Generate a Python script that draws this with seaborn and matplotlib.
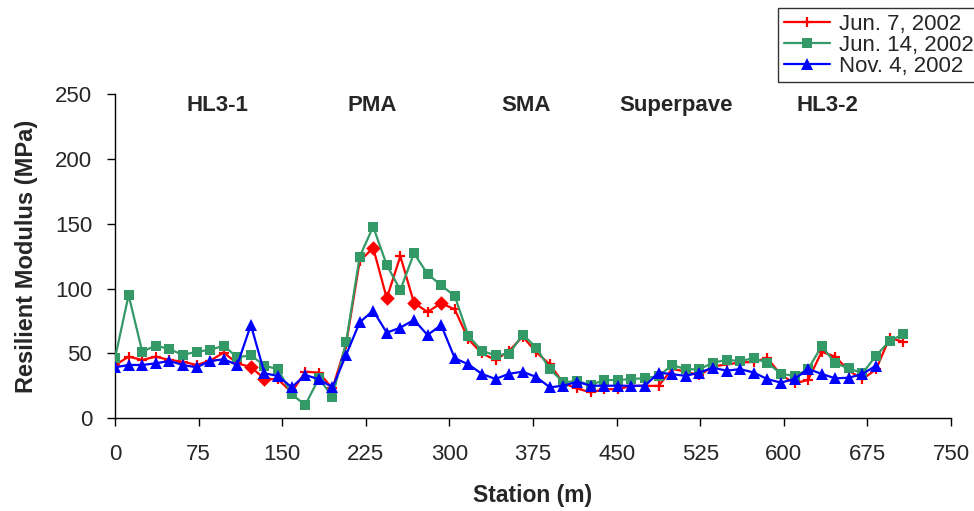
import matplotlib
matplotlib.use("Agg")
import matplotlib.pyplot as plt
import seaborn as sns
import pandas as pd

# ---------------- data ----------------
stations = [0.0, 12.2, 24.4, 36.6, 48.8, 61.0, 73.2, 85.3, 97.5, 109.7,
            121.9, 134.1, 146.3, 158.5, 170.7, 182.9, 195.1, 207.3, 219.5, 231.6,
            243.8, 256.0, 268.2, 280.4, 292.6, 304.8, 317.0, 329.2, 341.4, 353.6,
            365.8, 377.9, 390.1, 402.3, 414.5, 426.7, 438.9, 451.1, 463.3, 475.5,
            487.7, 499.9, 512.1, 524.3, 536.4, 548.6, 560.8, 573.0, 585.2, 597.4,
            609.6, 621.8, 634.0, 646.2, 658.4, 670.6, 682.8, 694.9, 707.1]

jun7 = [41, 47.5, 45, 47.5, 45, 43.6, 41.1, 44.4, 50.6, 42.4,
        39.5, 30.5, 30, 20, 35.9, 35.2, 23, 57, 121, 131.5,
        92.5, 125, 89, 82, 88.7, 84, 61, 50, 45, 52,
        63, 51, 41.5, 27, 23, 20, 22.4, 22.4, 25, 25,
        25, 38, 36, 33, 40, 41.5, 43, 43.5, 46.5, 33.5,
        27, 29.5, 51.3, 47.5, 36.7, 30.1, 37.8, 62, 59]

jun14 = [46.3, 95, 51.4, 56, 53.4, 48.8, 51.4, 52.7, 56, 47,
         48.6, 40.6, 37.8, 18.5, 10.3, 30.8, 16.7, 58.5, 124.6, 147.7,
         118.2, 98.9, 127.2, 111.3, 102.5, 94.3, 63.5, 52, 48.5, 49.8,
         64.6, 54.5, 37.9, 27.8, 28.8, 25.7, 29.5, 29.5, 30.3, 30.9,
         32.6, 41.1, 37.8, 37.8, 42.9, 45, 44.2, 46.3, 42.9, 34.4,
         32.6, 37.8, 55.7, 42.4, 38.5, 34.7, 48.3, 59.6, 64.8]

nov4 = [39.3, 41.1, 41.1, 42.4, 44.2, 41.1, 39.3, 44.2, 45.5, 41.1,
        72, 34.7, 32.6, 23.9, 33.4, 30.1, 23.9, 48.8, 74, 83,
        66, 69.9, 75.8, 64.2, 71.9, 46.3, 41.6, 34.2, 30.3, 34.4,
        35.9, 31.8, 23.9, 25.1, 28.2, 25.1, 25.1, 25.1, 25.1, 25.1,
        35.2, 34, 32.7, 35.3, 39, 36.7, 37.9, 35.3, 30.2, 27.5,
        30.3, 38, 34.2, 30.8, 31.3, 34.2, 40.6]

jun7_diamond_idx = [10, 11, 19, 20, 22, 24]

series_labels = ["Jun. 7, 2002", "Jun. 14, 2002", "Nov. 4, 2002"]

section_names = ["HL3-1", "PMA", "SMA", "Superpave", "HL3-2"]
section_x = [91.5, 230.6, 368.7, 503.2, 638.7]
section_y = 241.5

x_ticks = [0, 75, 150, 225, 300, 375, 450, 525, 600, 675, 750]
y_ticks = [0, 50, 100, 150, 200, 250]

# ---------------- style ----------------
sns.set_style("white")
plt.rcParams["font.family"] = ["Liberation Sans", "DejaVu Sans"]

RED = "#FF0000"
GREEN = "#339966"
BLUE = "#0000FF"

fig = plt.figure(figsize=(9.74, 5.11), dpi=100)
ax = fig.add_axes([115 / 974, 1 - 418.3 / 511, (951 - 115) / 974, (418.3 - 94) / 511])

df_r = pd.DataFrame({"Station": stations, "MR": jun7})
df_g = pd.DataFrame({"Station": stations, "MR": jun14})
df_b = pd.DataFrame({"Station": stations[:len(nov4)], "MR": nov4})
df_d = df_r.iloc[jun7_diamond_idx]

sns.lineplot(data=df_r, x="Station", y="MR", ax=ax, color=RED, lw=1.6,
             marker="+", markersize=7, markeredgewidth=1.6,
             markeredgecolor=RED, markerfacecolor=RED, estimator=None,
             label=series_labels[0], zorder=2)
sns.scatterplot(data=df_d, x="Station", y="MR", ax=ax, color=RED, marker="D",
                s=55, edgecolor=RED, linewidth=0, zorder=2.5, legend=False)
sns.lineplot(data=df_g, x="Station", y="MR", ax=ax, color=GREEN, lw=1.6,
             marker="s", markersize=7, markeredgewidth=0,
             markeredgecolor=GREEN, markerfacecolor=GREEN, estimator=None,
             label=series_labels[1], zorder=3)
sns.lineplot(data=df_b, x="Station", y="MR", ax=ax, color=BLUE, lw=1.6,
             marker="^", markersize=8.5, markeredgewidth=0,
             markeredgecolor=BLUE, markerfacecolor=BLUE, estimator=None,
             label=series_labels[2], zorder=4)

ax.set_xlim(0, 750)
ax.set_ylim(0, 250)
ax.set_xticks(x_ticks)
ax.set_yticks(y_ticks)
ax.tick_params(axis="both", direction="out", length=5.5, width=1, color="black",
               labelsize=16, bottom=True, left=True)
ax.tick_params(axis="x", pad=13)
ax.tick_params(axis="y", pad=11)

for s in ["top", "right"]:
    ax.spines[s].set_visible(False)
for s in ["left", "bottom"]:
    ax.spines[s].set_color("black")
    ax.spines[s].set_linewidth(1)

ax.set_xlabel("Station (m)", fontsize=16.5, fontweight="bold", labelpad=14)
ax.set_ylabel("Resilient Modulus (MPa)", fontsize=17, fontweight="bold", labelpad=12)

for name, xs in zip(section_names, section_x):
    ax.text(xs, section_y, name, ha="center", va="center", fontsize=16,
            fontweight="bold")

handles, labels = ax.get_legend_handles_labels()
ax.get_legend().remove()
leg = fig.legend(handles, labels, loc="upper left",
                 bbox_to_anchor=(778 / 974, 1 - 8 / 511),
                 fontsize=16, frameon=True, fancybox=False, shadow=False,
                 edgecolor="black", handlelength=2.1, handletextpad=0.4,
                 labelspacing=0.0, borderpad=0.25, borderaxespad=0)
leg.get_frame().set_linewidth(1)

fig.savefig("out.png", dpi=100)
